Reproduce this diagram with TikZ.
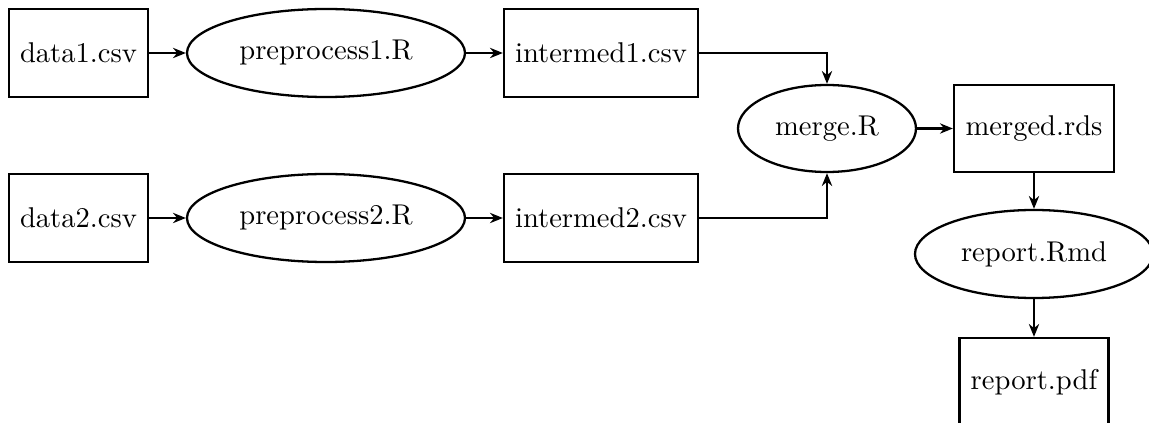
\documentclass[tikz,border=0pt]{standalone}
\usetikzlibrary{shapes.geometric,arrows.meta}
\newcommand\pxu{0.3497pt}
\tikzset{
  filebox/.style={draw, thick, rectangle, inner sep=0pt, minimum height=88*\pxu},
  scriptell/.style={draw, thick, ellipse, inner sep=0pt, minimum height=88*\pxu},
  flow/.style={thick, -{Stealth[length=4.5pt,width=3.6pt]}}
}
\begin{document}
\begin{tikzpicture}[x=\pxu, y=-\pxu]
\useasboundingbox (0,0) rectangle (1149,423);
\node[filebox, minimum width=139*\pxu] (d1) at (78.5,53) {data1.csv};
\node[scriptell, minimum width=278*\pxu] (p1) at (326,53) {preprocess1.R};
\node[filebox, minimum width=194*\pxu] (i1) at (601,53) {intermed1.csv};
\node[filebox, minimum width=139*\pxu] (d2) at (78.5,218) {data2.csv};
\node[scriptell, minimum width=278*\pxu] (p2) at (326,218) {preprocess2.R};
\node[filebox, minimum width=194*\pxu] (i2) at (601,218) {intermed2.csv};
\node[scriptell, minimum width=178*\pxu, minimum height=87*\pxu] (m) at (827,128.5) {merge.R};
\node[filebox, minimum width=160*\pxu, minimum height=87*\pxu] (mr) at (1034,128.5) {merged.rds};
\node[scriptell, minimum width=238*\pxu, minimum height=88*\pxu] (rm) at (1034,254) {report.Rmd};
\node[filebox, minimum width=149*\pxu] (rp) at (1034,382) {report.pdf};
\draw[flow] (d1) -- (p1);
\draw[flow] (p1) -- (i1);
\draw[flow] (d2) -- (p2);
\draw[flow] (p2) -- (i2);
\draw[flow] (i1.east) -| (m.north);
\draw[flow] (i2.east) -| (m.south);
\draw[flow] (m) -- (mr);
\draw[flow] (mr) -- (rm);
\draw[flow] (rm) -- (rp);
\end{tikzpicture}
\end{document}
